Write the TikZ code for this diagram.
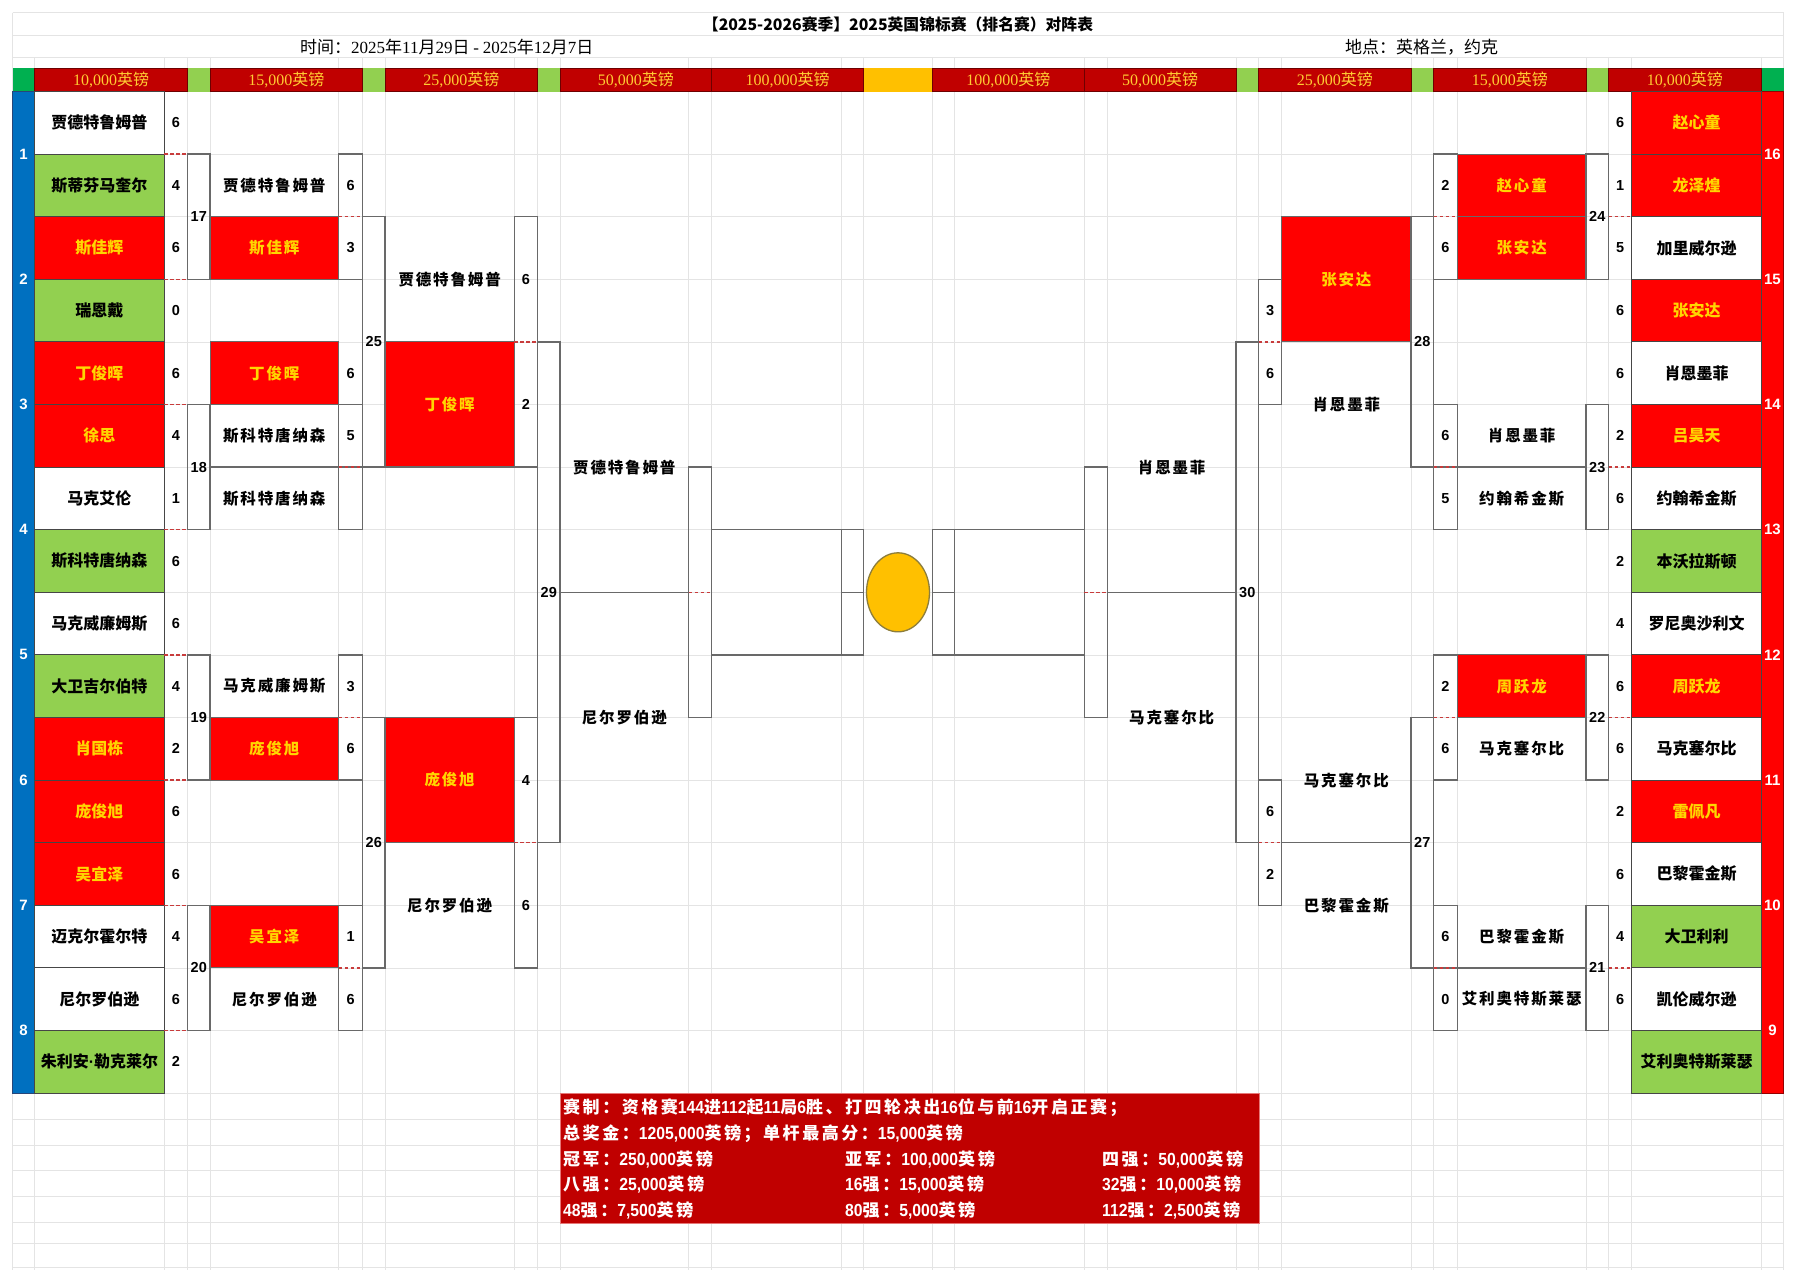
\documentclass[tikz,border=0pt]{standalone}
\usepackage{fontspec}
\usetikzlibrary{shapes.geometric}
\setmainfont{Liberation Sans}
\newfontfamily\cjk{Noto Sans CJK SC}
\newfontfamily\cjkls[LetterSpace=12]{Noto Sans CJK SC}
\newfontfamily\cjkinfo[LetterSpace=15]{Noto Sans CJK SC}
\newfontfamily\infonum[FakeStretch=0.9]{Liberation Sans}
\newfontfamily\serifnum{Liberation Serif}
\newcommand\dg[1]{{\infonum\bfseries\fontsize{17.5}{17.5}\selectfont #1}}
\newcommand\sn[1]{{\serifnum #1}}
\definecolor{cred}{RGB}{255,0,0}
\definecolor{cdred}{RGB}{192,0,0}
\definecolor{chedge}{RGB}{110,0,0}
\definecolor{cyel}{RGB}{255,214,0}
\definecolor{chead}{RGB}{255,204,51}
\definecolor{cgreen}{RGB}{146,208,80}
\definecolor{cdgreen}{RGB}{0,176,80}
\definecolor{cblue}{RGB}{0,112,192}
\definecolor{cbedge}{RGB}{40,70,120}
\definecolor{credge}{RGB}{150,0,0}
\definecolor{corange}{RGB}{255,192,0}
\definecolor{ccup}{RGB}{140,125,60}
\definecolor{cinfoedge}{RGB}{230,120,120}
\definecolor{cgrid}{RGB}{228,228,228}
\definecolor{cbox}{RGB}{105,105,105}
\definecolor{ccell}{RGB}{70,70,70}
\definecolor{cdash}{RGB}{200,60,60}
\colorlet{W}{white}\colorlet{G}{cgreen}\colorlet{R}{cred}
\colorlet{tW}{black}\colorlet{tG}{black}\colorlet{tR}{cyel}
\newcommand\Y[1]{91.5+62.6*(#1)}
\newcommand\Ym[1]{122.8+62.6*(#1)}
\tikzset{
 gridline/.style={draw=cgrid, line width=0.8},
 boxline/.style={draw=cbox, line width=1.3},
 dsh/.style={draw=cdash, line width=1.5, dash pattern=on 3.5pt off 2.5pt},
 r1cell/.style={draw=ccell, line width=0.9, minimum width=129.7pt, minimum height=62.6pt, inner sep=0pt, font=\cjk\bfseries\fontsize{16}{16}\selectfont},
 n2red/.style={draw=cbox, line width=1, fill=cred, text=cyel, minimum width=128.6pt, minimum height=62.6pt, inner sep=0pt, font=\cjkls\bfseries\fontsize{15.5}{15.5}\selectfont},
 n3red/.style={draw=cbox, line width=1, fill=cred, text=cyel, minimum width=129.3pt, minimum height=125.2pt, inner sep=0pt, font=\cjkls\bfseries\fontsize{15.5}{15.5}\selectfont},
 nm/.style={inner sep=0pt, font=\cjkls\bfseries\fontsize{15.5}{15.5}\selectfont},
 sc/.style={inner sep=0pt, font=\bfseries\fontsize{14.5}{14.5}\selectfont},
 lab/.style={inner sep=0pt, font=\bfseries\fontsize{14.5}{14.5}\selectfont},
 barnum/.style={inner sep=0pt, text=white, font=\bfseries\fontsize{15}{15}\selectfont},
 hd/.style={inner sep=0pt, text=chead, font=\cjk\fontsize{16}{16}\selectfont},
 hdcell/.style={fill=cdred, draw=chedge, line width=0.8},
 info/.style={inner sep=0pt, anchor=west, text=white, font=\cjkinfo\bfseries\fontsize{17}{17}\selectfont},
}
\begin{document}
\begin{tikzpicture}[x=1pt,y=-1pt]
\def\colA{12.5}\def\colB{34.6}\def\colC{164.3}\def\colD{187.5}\def\colE{210}\def\colF{338.6}\def\colG{362.5}\def\colH{385}\def\colI{514.3}\def\colJ{537.5}\def\colK{560}\def\colL{688.6}\def\colM{711.8}\def\colN{841.4}\def\colO{863.6}
\def\rA{1783.5}\def\rB{1761.4}\def\rC{1631.7}\def\rD{1608.5}\def\rE{1586}\def\rF{1457.4}\def\rG{1433.5}\def\rH{1411}\def\rI{1281.7}\def\rJ{1258.5}\def\rK{1236}\def\rL{1107.4}\def\rM{1084.2}\def\rN{954.6}\def\rO{932.4}
\useasboundingbox[fill=white] (0,0) rectangle (1796,1280);
% ---------- spreadsheet grid
\foreach \gy in {12.7,35,57.3,1119,1145,1170,1196,1222,1243,1267}
  \draw[gridline] (\colA,\gy) -- (\rA,\gy);
\foreach \k in {0,...,16}
  \draw[gridline] (\colA,{\Y{\k}}) -- (\rA,{\Y{\k}});
\foreach \gx in {\colA,\colB,\colC,\colD,\colE,\colF,\colG,\colH,\colI,\colJ,\colK,\colL,\colM,\colN,\colO,\rA,\rB,\rC,\rD,\rE,\rF,\rG,\rH,\rI,\rJ,\rK,\rL,\rM,\rN,\rO}
  \draw[gridline] (\gx,57.3) -- (\gx,1270);
\draw[gridline] (\colA,12.7) -- (\colA,57.3);
\draw[gridline] (\rA,12.7) -- (\rA,57.3);
% ---------- title lines
\node[inner sep=0pt, font=\cjk\bfseries\fontsize{15.8}{15.8}\selectfont] (title) at (898,24) {【2025-2026赛季】2025英国锦标赛（排名赛）对阵表};
\node[inner sep=0pt, anchor=west, font=\cjk\fontsize{17}{17}\selectfont] (time) at (300,47.5) {时间：\sn{2025}年\sn{11}月\sn{29}日 \sn{-} \sn{2025}年\sn{12}月\sn{7}日};
\node[inner sep=0pt, anchor=west, font=\cjk\fontsize{17}{17}\selectfont] (place) at (1345,47.5) {地点：英格兰，约克};
% ---------- header bar
\foreach \xa/\xb/\cc in {\colA/\colB/cdgreen,\colD/\colE/cgreen,\colG/\colH/cgreen,\colJ/\colK/cgreen,\colO/\rO/corange,\rK/\rJ/cgreen,\rH/\rG/cgreen,\rE/\rD/cgreen,\rB/\rA/cdgreen}
  \fill[\cc] (\xa,68.3) rectangle (\xb,91.5);
\foreach \xa/\xb/\txt/\hn in {\colB/\colD/{\sn{10,000}英镑}/hA,\colE/\colG/{\sn{15,000}英镑}/hB,\colH/\colJ/{\sn{25,000}英镑}/hC,\colK/\colM/{\sn{50,000}英镑}/hD,\colM/\colO/{\sn{100,000}英镑}/hE,\rO/\rM/{\sn{100,000}英镑}/hF,\rM/\rK/{\sn{50,000}英镑}/hG,\rJ/\rH/{\sn{25,000}英镑}/hH,\rG/\rE/{\sn{15,000}英镑}/hI,\rD/\rB/{\sn{10,000}英镑}/hJ}{
  \path[hdcell] (\xa,68.3) rectangle (\xb,91.5);
  \node[hd] (\hn) at ({(\xa+\xb)/2},80) {\txt};
}
% ---------- side bars
\path[fill=cblue, draw=cbedge, line width=0.8] (\colA,{\Y{0}}) rectangle (\colB,{\Y{16}});
\path[fill=cred, draw=credge, line width=0.8] (\rB,{\Y{0}}) rectangle (\rA,{\Y{16}});
\foreach \k/\lb in {1/1,2/2,3/3,4/4,5/5,6/6,7/7,8/8}
  \node[barnum] (bl\lb) at ({(\colA+\colB)/2},{\Y{2*\k-1}}) {\lb};
\foreach \k/\lb in {1/16,2/15,3/14,4/13,5/12,6/11,7/10,8/9}
  \node[barnum] (br\lb) at ({(\rA+\rB)/2},{\Y{2*\k-1}}) {\lb};
% ---------- round 1 left
\foreach \r/\nmx/\f/\s in {0/贾德特鲁姆普/W/6,1/斯蒂芬马奎尔/G/4,2/斯佳辉/R/6,3/瑞恩戴/G/0,4/丁俊晖/R/6,5/徐思/R/4,6/马克艾伦/W/1,7/斯科特唐纳森/G/6,8/马克威廉姆斯/W/6,9/大卫吉尔伯特/G/4,10/肖国栋/R/2,11/庞俊旭/R/6,12/吴宜泽/R/6,13/迈克尔霍尔特/W/4,14/尼尔罗伯逊/W/6,15/{朱利安{\rmfamily\bfseries ·}勒克莱尔}/G/2}{
  \node[r1cell, fill=\f, text=t\f] (LA\r) at ({(\colB+\colC)/2},{\Ym{\r}}) {\nmx};
  \node[sc] (LS\r) at ({(\colC+\colD)/2},{\Ym{\r}}) {\s};
}
% ---------- round 1 right
\foreach \r/\nmx/\f/\s in {0/赵心童/R/6,1/龙泽煌/R/1,2/加里威尔逊/W/5,3/张安达/R/6,4/肖恩墨菲/W/6,5/吕昊天/R/2,6/约翰希金斯/W/6,7/本沃拉斯顿/G/2,8/罗尼奥沙利文/W/4,9/周跃龙/R/6,10/马克塞尔比/W/6,11/雷佩凡/R/2,12/巴黎霍金斯/W/6,13/大卫利利/G/4,14/凯伦威尔逊/W/6,15/艾利奥特斯莱瑟/G/{}}{
  \node[r1cell, fill=\f, text=t\f] (RA\r) at ({(\rB+\rC)/2},{\Ym{\r}}) {\nmx};
  \node[sc] (RS\r) at ({(\rC+\rD)/2},{\Ym{\r}}) {\s};
}
% ---------- round 2 cells
\foreach \r/\nmx in {2/斯佳辉,4/丁俊晖,10/庞俊旭,13/吴宜泽}
  \node[n2red] (LBr\r) at ({(\colE+\colF)/2},{\Ym{\r}}) {\nmx};
\foreach \r/\nmx in {1/贾德特鲁姆普,5/斯科特唐纳森,6/斯科特唐纳森,9/马克威廉姆斯,14/尼尔罗伯逊}
  \node[nm] (LBw\r) at ({(\colE+\colF)/2},{\Ym{\r}}) {\nmx};
\foreach \r/\s in {1/6,2/3,4/6,5/5,9/3,10/6,13/1,14/6}
  \node[sc] (LT\r) at ({(\colF+\colG)/2},{\Ym{\r}}) {\s};
\foreach \r/\nmx in {1/赵心童,2/张安达,9/周跃龙}
  \node[n2red] (RBr\r) at ({(\rE+\rF)/2},{\Ym{\r}}) {\nmx};
\foreach \r/\nmx in {5/肖恩墨菲,6/约翰希金斯,10/马克塞尔比,13/巴黎霍金斯,14/艾利奥特斯莱瑟}
  \node[nm] (RBw\r) at ({(\rE+\rF)/2},{\Ym{\r}}) {\nmx};
\foreach \r/\s in {1/2,2/6,5/6,6/5,9/2,10/6,13/6,14/0}
  \node[sc] (RT\r) at ({(\rF+\rG)/2},{\Ym{\r}}) {\s};
% ---------- round 3 cells
\node[n3red] (LC1) at ({(\colH+\colI)/2},{\Y{5}}) {丁俊晖};
\node[n3red] (LC2) at ({(\colH+\colI)/2},{\Y{11}}) {庞俊旭};
\node[nm] (LC3) at ({(\colH+\colI)/2},{\Y{3}}) {贾德特鲁姆普};
\node[nm] (LC4) at ({(\colH+\colI)/2},{\Y{13}}) {尼尔罗伯逊};
\foreach \k/\s in {3/6,5/2,11/4,13/6}
  \node[sc] (LU\k) at ({(\colI+\colJ)/2},{\Y{\k}}) {\s};
\node[n3red] (RC1) at ({(\rH+\rI)/2},{\Y{3}}) {张安达};
\node[nm] (RC2) at ({(\rH+\rI)/2},{\Y{5}}) {肖恩墨菲};
\node[nm] (RC3) at ({(\rH+\rI)/2},{\Y{11}}) {马克塞尔比};
\node[nm] (RC4) at ({(\rH+\rI)/2},{\Y{13}}) {巴黎霍金斯};
\foreach \r/\s in {3/3,4/6,11/6,12/2}
  \node[sc] (RU\r) at ({(\rI+\rJ)/2},{\Ym{\r}}) {\s};
% ---------- semi final names
\node[nm] (LD1) at ({(\colK+\colL)/2},{\Y{6}}) {贾德特鲁姆普};
\node[nm] (LD2) at ({(\colK+\colL)/2},{\Y{10}}) {尼尔罗伯逊};
\node[nm] (RD1) at ({(\rK+\rL)/2},{\Y{6}}) {肖恩墨菲};
\node[nm] (RD2) at ({(\rK+\rL)/2},{\Y{10}}) {马克塞尔比};
% ---------- left bracket boxes
\foreach \a/\b in {1/3,5/7,9/11,13/15}{
  \draw[boxline] (\colD,{\Y{\a}}) rectangle (\colE,{\Y{\b}});
  \draw[boxline] (\colF,{\Y{\a}}) rectangle (\colG,{\Y{\b}});
}
\foreach \a/\b in {2/6,10/14}{
  \draw[boxline] (\colG,{\Y{\a}}) rectangle (\colH,{\Y{\b}});
  \draw[boxline] (\colI,{\Y{\a}}) rectangle (\colJ,{\Y{\b}});
}
\draw[boxline] (\colJ,{\Y{4}}) rectangle (\colK,{\Y{12}});
\draw[boxline] (\colE,{\Y{6}}) -- (\colJ,{\Y{6}});
\draw[boxline] (\colK,{\Y{8}}) -- (\colL,{\Y{8}});
\draw[boxline] (\colL,{\Y{6}}) rectangle (\colM,{\Y{10}});
\draw[boxline] (\colM,{\Y{7}}) rectangle (\colO,{\Y{9}});
\draw[boxline] (\colN,{\Y{7}}) -- (\colN,{\Y{9}});
\draw[boxline] (\colN,{\Y{8}}) -- (\colO,{\Y{8}});
% ---------- right bracket boxes
\foreach \a/\b in {1/3,5/7,9/11,13/15}{
  \draw[boxline] (\rE,{\Y{\a}}) rectangle (\rD,{\Y{\b}});
  \draw[boxline] (\rG,{\Y{\a}}) rectangle (\rF,{\Y{\b}});
}
\foreach \a/\b in {2/6,10/14}
  \draw[boxline] (\rH,{\Y{\a}}) rectangle (\rG,{\Y{\b}});
\foreach \a/\b in {3/5,11/13}
  \draw[boxline] (\rJ,{\Y{\a}}) rectangle (\rI,{\Y{\b}});
\draw[boxline] (\rK,{\Y{4}}) rectangle (\rJ,{\Y{12}});
\draw[boxline] (\rH,{\Y{6}}) -- (\rE,{\Y{6}});
\draw[boxline] (\rH,{\Y{14}}) -- (\rE,{\Y{14}});
\draw[boxline] (\rI,{\Y{12}}) -- (\rH,{\Y{12}});
\draw[boxline] (\rL,{\Y{8}}) -- (\rK,{\Y{8}});
\draw[boxline] (\rM,{\Y{6}}) rectangle (\rL,{\Y{10}});
\draw[boxline] (\rO,{\Y{7}}) rectangle (\rM,{\Y{9}});
\draw[boxline] (\rN,{\Y{7}}) -- (\rN,{\Y{9}});
\draw[boxline] (\rO,{\Y{8}}) -- (\rN,{\Y{8}});
% ---------- red dashes
\foreach \k in {1,3,...,15} \draw[dsh] (\colC,{\Y{\k}}) -- (\colD,{\Y{\k}});
\foreach \k in {2,6,10,14} \draw[dsh] (\colF,{\Y{\k}}) -- (\colG,{\Y{\k}});
\foreach \k in {4,12} \draw[dsh] (\colI,{\Y{\k}}) -- (\colJ,{\Y{\k}});
\draw[dsh] (\colL,{\Y{8}}) -- (\colM,{\Y{8}});
\foreach \k in {2,6,10,14} \draw[dsh] (\rD,{\Y{\k}}) -- (\rC,{\Y{\k}});
\foreach \k in {2,6,10,14} \draw[dsh] (\rG,{\Y{\k}}) -- (\rF,{\Y{\k}});
\foreach \k in {4,12} \draw[dsh] (\rJ,{\Y{\k}}) -- (\rI,{\Y{\k}});
\draw[dsh] (\rM,{\Y{8}}) -- (\rL,{\Y{8}});
% ---------- match numbers
\foreach \k/\lb in {2/17,6/18,10/19,14/20}
  \node[lab] (m\lb) at ({(\colD+\colE)/2},{\Y{\k}}) {\lb};
\foreach \k/\lb in {4/25,12/26}
  \node[lab] (m\lb) at ({(\colG+\colH)/2},{\Y{\k}}) {\lb};
\node[lab] (m29) at ({(\colJ+\colK)/2},{\Y{8}}) {29};
\foreach \k/\lb in {2/24,6/23,10/22,14/21}
  \node[lab] (m\lb) at ({(\rD+\rE)/2},{\Y{\k}}) {\lb};
\foreach \k/\lb in {4/28,12/27}
  \node[lab] (m\lb) at ({(\rG+\rH)/2},{\Y{\k}}) {\lb};
\node[lab] (m30) at ({(\rJ+\rK)/2},{\Y{8}}) {30};
% ---------- trophy
\node[ellipse, draw=ccup, line width=1.3, fill=corange, minimum width=63pt, minimum height=79pt, inner sep=0pt] (cup) at (898,{\Y{8}}) {};
% ---------- info box
\path[fill=cdred, draw=cinfoedge, line width=0.8] (560,1093) rectangle (1259,1223);
\node[info] (i1) at (563,1108) {赛制：资格赛\dg{144}进\dg{112}起\dg{11}局\dg{6}胜、打四轮决出\dg{16}位与前\dg{16}开启正赛；};
\node[info] (i2) at (563,1133.5) {总奖金：\dg{1205,000}英镑；单杆最高分：\dg{15,000}英镑};
\node[info] (i3a) at (563,1159) {冠军：\dg{250,000}英镑};
\node[info] (i3b) at (845,1159) {亚军：\dg{100,000}英镑};
\node[info] (i3c) at (1102,1159) {四强：\dg{50,000}英镑};
\node[info] (i4a) at (563,1184.5) {八强：\dg{25,000}英镑};
\node[info] (i4b) at (845,1184.5) {\dg{16}强：\dg{15,000}英镑};
\node[info] (i4c) at (1102,1184.5) {\dg{32}强：\dg{10,000}英镑};
\node[info] (i5a) at (563,1210) {\dg{48}强：\dg{7,500}英镑};
\node[info] (i5b) at (845,1210) {\dg{80}强：\dg{5,000}英镑};
\node[info] (i5c) at (1102,1210) {\dg{112}强：\dg{2,500}英镑};
\end{tikzpicture}
\end{document}
